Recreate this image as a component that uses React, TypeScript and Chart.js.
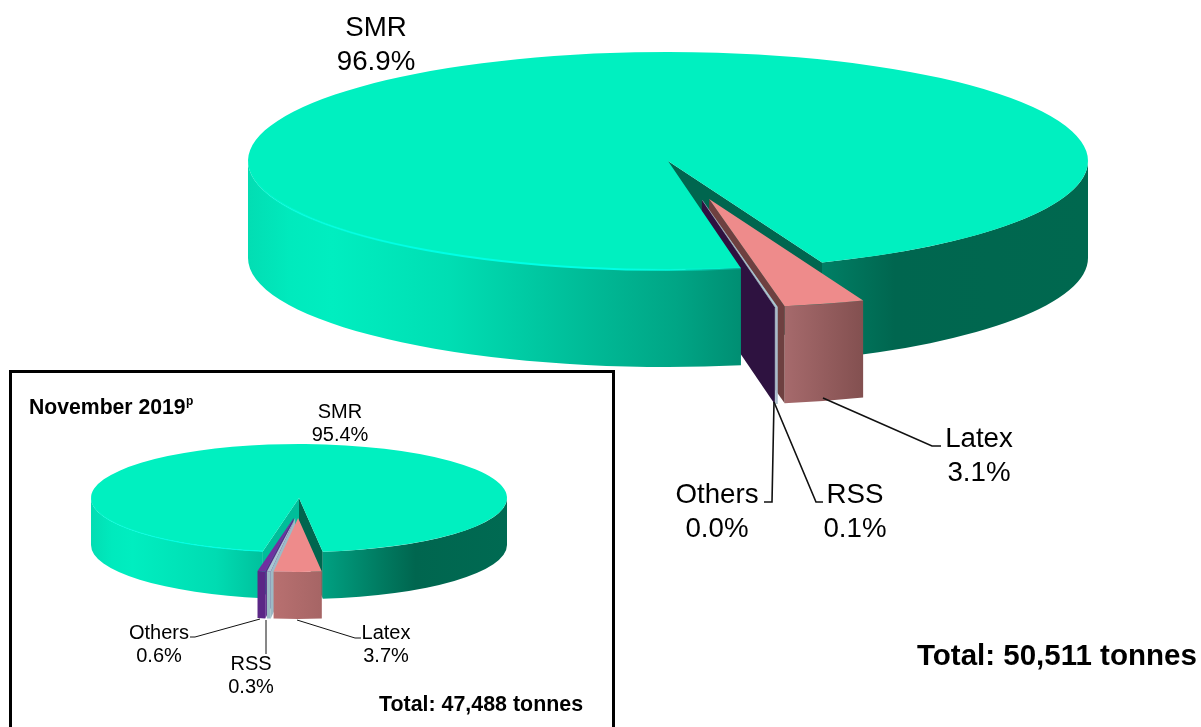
import React, { useEffect, useRef } from "react";
import { Chart } from "chart.js/auto";

const CATEGORIES = ["SMR", "Latex", "RSS", "Others"];
const DEC_VALUES = [96.9, 3.1, 0.1, 0.0];
const NOV_VALUES = [95.4, 3.7, 0.3, 0.6];
const TOP_COLORS = ["#00F0C0", "#EE8B8B", "#A9C6D2", "#7030A0"];
const INSET_TITLE = "November 2019";
const INSET_TITLE_SUP = "p";
const MAIN_TOTAL = "Total: 50,511 tonnes";
const INSET_TOTAL = "Total: 47,488 tonnes";
const FONT = '"Liberation Sans", Arial, sans-serif';
const TAU = Math.PI * 2;

type Stop = [number, string];
type Cfg = {
  rotation: number; cx: number; cy: number; rx: number; ry: number; h: number;
  explodeAngle: number[]; explodeDist: number[];
  faceOrder: number[];
  startFace: string[]; endFace: string[];
  walls: Stop[][];
  rim: Stop[]; rimWidth: number;
  labels: { i: number; x: number; y1: number; y2: number }[];
  labelSize: number;
  leaders: number[][]; leaderWidth: number;
  extra: { text: string; x: number; y: number; font: string; align: CanvasTextAlign }[];
};

const MAIN_CFG: Cfg = {
  rotation: 170, cx: 668, cy: 161, rx: 420, ry: 109, h: 97,
  explodeAngle: [0, 74.3, 77.1, 77.3], explodeDist: [0, 0.362, 0.365, 0.367],
  faceOrder: [1, 2, 3],
  startFace: ["#00BE9A", "#A66A6C", "#A9BCCB", "#2E1240"],
  endFace: ["#00664F", "#6E4040", "#A9BCCB", "#2E1240"],
  walls: [
    [[0, "#03DDB3"], [0.05, "#00EABD"], [0.1, "#00EEC0"], [0.24, "#00DEB3"], [0.38, "#00C09B"], [0.51, "#00A585"], [0.585, "#008F73"], [0.68, "#008066"], [0.77, "#00664F"], [1, "#00684F"]],
    [[0, "#A66A6C"], [1, "#835050"]],
    [[0, "#A9BCCB"], [1, "#A9BCCB"]],
    [[0, "#5B2786"], [1, "#5B2786"]],
  ],
  rim: [[0, "rgba(0,255,225,0)"], [0.06, "rgba(0,255,225,0.7)"], [0.2, "#00FFE5"], [0.45, "#00FFE5"], [0.58, "rgba(0,255,225,0.25)"]],
  rimWidth: 2,
  labels: [
    { i: 0, x: 376, y1: 36, y2: 70 },
    { i: 1, x: 979, y1: 447, y2: 481 },
    { i: 2, x: 855, y1: 503, y2: 537 },
    { i: 3, x: 717, y1: 503, y2: 537 },
  ],
  labelSize: 27.7,
  leaders: [
    [823, 398, 932, 446, 941, 446],
    [774, 402, 816, 502, 823, 502],
    [774, 402, 772, 502, 764, 502],
  ],
  leaderWidth: 1.6,
  extra: [{ text: MAIN_TOTAL, x: 917, y: 665, font: `bold 29.5px ${FONT}`, align: "left" }],
};

const INSET_CFG: Cfg = {
  rotation: 190, cx: 299, cy: 498, rx: 208, ry: 54, h: 47,
  explodeAngle: [0, 90.7, 92.8, 94], explodeDist: [0, 0.37, 0.37, 0.37],
  faceOrder: [3, 2, 1],
  startFace: ["#00BE9A", "#A86868", "#9CBAC6", "#5B2786"],
  endFace: ["#00664F", "#6E4040", "#9CBAC6", "#2E1240"],
  walls: [
    [[0, "#03DDB3"], [0.05, "#00EABD"], [0.1, "#00EEC0"], [0.3, "#00DCB2"], [0.45, "#00B896"], [0.55, "#00A283"], [0.7, "#007A60"], [0.78, "#00664F"], [1, "#006A52"]],
    [[0, "#B87070"], [1, "#A66565"]],
    [[0, "#9BBCC4"], [1, "#9BBCC4"]],
    [[0, "#5B2786"], [1, "#5B2786"]],
  ],
  rim: [[0, "rgba(0,255,225,0)"], [0.05, "rgba(0,255,225,0.5)"], [0.2, "#00FFE5"], [0.42, "#00FFE5"], [0.5, "rgba(0,255,225,0.2)"]],
  rimWidth: 1.2,
  labels: [
    { i: 0, x: 340, y1: 418, y2: 441 },
    { i: 1, x: 386, y1: 639, y2: 662 },
    { i: 2, x: 251, y1: 670, y2: 693 },
    { i: 3, x: 159, y1: 639, y2: 662 },
  ],
  labelSize: 20,
  leaders: [
    [297, 620, 355, 638, 361, 638],
    [266, 620, 266, 654],
    [260, 619, 195, 637, 190, 637],
  ],
  leaderWidth: 1,
  extra: [
    { text: INSET_TITLE, x: 29, y: 414, font: `bold 21.2px ${FONT}`, align: "left" },
    { text: INSET_TITLE_SUP, x: 186, y: 405, font: `bold 12px ${FONT}`, align: "left" },
    { text: INSET_TOTAL, x: 379, y: 711, font: `bold 21.4px ${FONT}`, align: "left" },
  ],
};

function frontRanges(a: number, b: number): [number, number][] {
  const out: [number, number][] = [];
  const k0 = Math.floor(a / TAU) - 1;
  for (let k = k0; k < k0 + 4; k++) {
    const s = Math.max(a, k * TAU);
    const e = Math.min(b, k * TAU + Math.PI);
    if (e > s) out.push([s, e]);
  }
  return out;
}

function makePlugin(cfg: Cfg, values: number[]) {
  return {
    id: "pie3d",
    beforeDatasetsDraw(chart: any) {
      const ctx: CanvasRenderingContext2D = chart.ctx;
      const arcs: any[] = chart.getDatasetMeta(0).data;
      const { cx, cy, rx, ry, h } = cfg;
      const origin = (i: number) => {
        const d = cfg.explodeDist[i];
        const t = (cfg.explodeAngle[i] * Math.PI) / 180;
        return { x: cx + Math.cos(t) * d * rx, y: cy + Math.sin(t) * d * ry };
      };
      const face = (i: number, angle: number, color: string) => {
        const o = origin(i);
        const px = o.x + Math.cos(angle) * rx;
        const py = o.y + Math.sin(angle) * ry;
        ctx.beginPath();
        ctx.moveTo(o.x, o.y);
        ctx.lineTo(px, py);
        ctx.lineTo(px, py + h);
        ctx.lineTo(o.x, o.y + h);
        ctx.closePath();
        ctx.fillStyle = color;
        ctx.fill();
      };
      const radial = (i: number) => {
        const el = arcs[i];
        if (Math.cos(el.startAngle) < 0) face(i, el.startAngle, cfg.startFace[i]);
        if (Math.cos(el.endAngle) > 0) face(i, el.endAngle, cfg.endFace[i]);
      };
      const wall = (i: number) => {
        const el = arcs[i];
        const o = origin(i);
        let a = el.startAngle;
        let b = el.endAngle;
        if (b - a < 1e-6) return;
        const ranges = frontRanges(a, b);
        let x0 = cx - rx, x1 = cx + rx;
        if (i !== 0 && ranges.length) {
          const xs = [o.x + Math.cos(ranges[0][0]) * rx, o.x + Math.cos(ranges[0][1]) * rx];
          x0 = Math.min(...xs);
          x1 = Math.max(...xs);
        }
        const g = ctx.createLinearGradient(x0, 0, Math.max(x1, x0 + 1), 0);
        cfg.walls[i].forEach(([t, c]) => g.addColorStop(t, c));
        ctx.fillStyle = g;
        for (const [s, e] of ranges) {
          ctx.beginPath();
          ctx.ellipse(o.x, o.y, rx, ry, 0, s, e);
          ctx.ellipse(o.x, o.y + h, rx, ry, 0, e, s, true);
          ctx.closePath();
          ctx.fill();
        }
      };
      radial(0);
      cfg.faceOrder.forEach(radial);
      wall(0);
      cfg.faceOrder.forEach(wall);
      // top surfaces: the library's own arc elements, laid flat
      [0, 1, 2, 3].forEach((i) => {
        const el = arcs[i];
        const o = origin(i);
        const R = el.outerRadius;
        ctx.save();
        ctx.translate(o.x, o.y);
        ctx.scale(rx / R, ry / R);
        ctx.translate(-el.x, -el.y);
        el.draw(ctx);
        ctx.restore();
      });
      // light bevel on the front-left rim
      const smr = arcs[0];
      const g = ctx.createLinearGradient(cx - rx, 0, cx + rx, 0);
      cfg.rim.forEach(([t, c]) => g.addColorStop(t, c));
      ctx.beginPath();
      ctx.ellipse(cx, cy, rx - 0.5, ry, 0, smr.startAngle, Math.PI);
      ctx.strokeStyle = g;
      ctx.lineWidth = cfg.rimWidth;
      ctx.stroke();
      // leaders
      ctx.strokeStyle = "#111";
      ctx.lineWidth = cfg.leaderWidth;
      cfg.leaders.forEach((p) => {
        ctx.beginPath();
        ctx.moveTo(p[0], p[1]);
        for (let k = 2; k < p.length; k += 2) ctx.lineTo(p[k], p[k + 1]);
        ctx.stroke();
      });
      // labels
      ctx.fillStyle = "#000";
      ctx.textBaseline = "alphabetic";
      ctx.textAlign = "center";
      ctx.font = `${cfg.labelSize}px ${FONT}`;
      cfg.labels.forEach((l) => {
        ctx.fillText(CATEGORIES[l.i], l.x, l.y1);
        ctx.fillText(`${values[l.i].toFixed(1)}%`, l.x, l.y2);
      });
      cfg.extra.forEach((t) => {
        ctx.font = t.font;
        ctx.textAlign = t.align;
        ctx.fillText(t.text, t.x, t.y);
      });
      return false;
    },
  };
}

function makeChart(canvas: HTMLCanvasElement, cfg: Cfg, values: number[]) {
  return new Chart(canvas, {
    type: "pie",
    data: {
      labels: CATEGORIES,
      datasets: [{ data: values, backgroundColor: TOP_COLORS, borderWidth: 0 }],
    },
    options: {
      responsive: false,
      animation: false,
      rotation: cfg.rotation,
      events: [],
      plugins: { legend: { display: false }, tooltip: { enabled: false } },
    },
    plugins: [makePlugin(cfg, values)],
  } as any);
}

const layer: React.CSSProperties = { position: "absolute", left: 0, top: 0, display: "block" };

export default function App() {
  const mainRef = useRef<HTMLCanvasElement>(null);
  const insetRef = useRef<HTMLCanvasElement>(null);
  useEffect(() => {
    const a = makeChart(mainRef.current!, MAIN_CFG, DEC_VALUES);
    const b = makeChart(insetRef.current!, INSET_CFG, NOV_VALUES);
    return () => {
      a.destroy();
      b.destroy();
    };
  }, []);
  return (
    <div style={{ position: "fixed", left: 0, top: 0, width: 1201, height: 727, overflow: "hidden", background: "#fff" }}>
      <canvas ref={mainRef} width={1201} height={727} style={layer} />
      <div style={{ position: "absolute", left: 9, top: 370, width: 600, height: 380, border: "3px solid #000", background: "#fff" }} />
      <canvas ref={insetRef} width={1201} height={727} style={layer} />
    </div>
  );
}
